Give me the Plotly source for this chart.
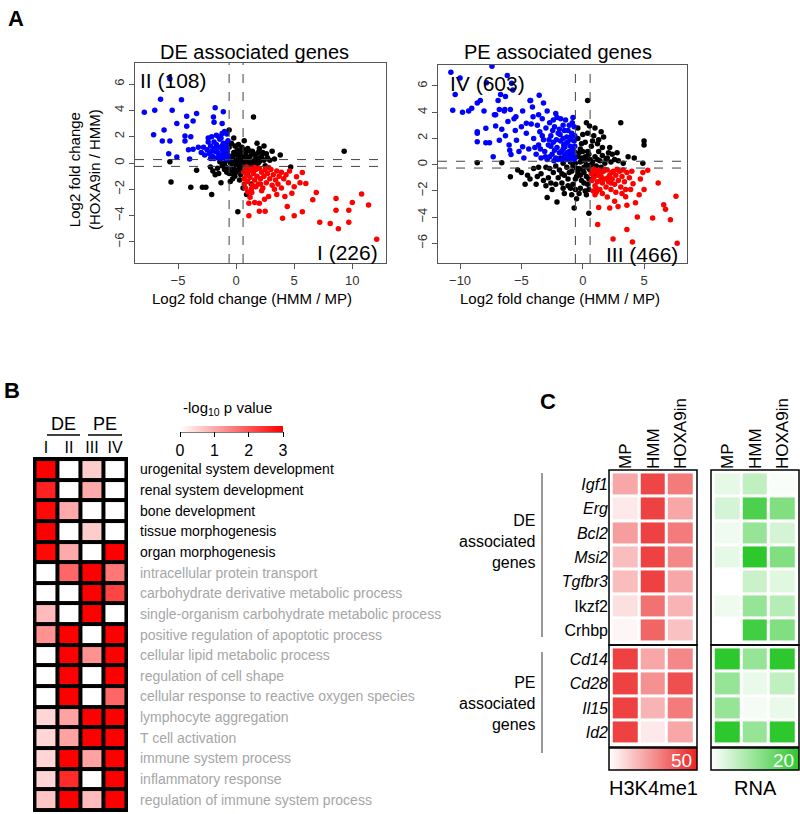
import plotly.graph_objects as go

W, H = 800, 814

# ---------------- panel A data ----------------
de_black = [(1.5, 3.5), (9.3, 0.9), (0.15, -3.7), (-5.7, 0.1), (-5.6, -1.45), (-3.9, -1.85),
            (-3.4, -0.55), (-2.9, -1.85), (-2.6, -1.85), (-2.1, -2.4), (-0.6, 2.5), (-0.2, 1.9),
            (0.9, -2.4), (0.7, 1.7), (2.4, 1.3), (2.0, 1.1), (3.1, 0.9), (3.8, 0.6), (4.7, -0.3),
            (-1.3, -1.5), (-2.2, -0.3), (-1.8, -0.9), (-1.0, -0.5), (1.3, -1.6), (0.6, -1.9),
            (-0.3, -1.2), (2.6, 0.7), (3.3, 0.3), (1.8, 1.5), (-0.6, -0.8),
            (-0.5, 0.0), (-0.3, 0.3), (-0.2, -0.3), (0.0, 0.6), (0.0, -0.1), (0.1, 0.2), (0.2, -0.5),
            (0.3, 0.9), (0.3, 0.1), (0.4, -0.2), (0.5, 0.5), (0.6, -0.1), (0.7, 0.2), (0.8, 0.6),
            (0.9, 0.0), (1.0, 0.3), (1.1, -0.2), (1.2, 0.5), (1.4, 0.1), (1.5, 0.7), (1.6, 0.2),
            (1.8, 0.4), (2.0, 0.1), (2.2, 0.5), (2.4, 0.2), (2.7, 0.4), (-0.8, 0.2), (-1.0, 0.0),
            (-0.6, -0.5), (-0.4, -0.8), (0.0, -0.7), (0.1, 1.0), (-0.2, 0.8), (0.5, 1.2), (0.9, 0.9),
            (1.2, 0.9), (-1.2, -0.2), (-0.9, -0.3), (-0.1, -1.0), (0.4, -0.9), (0.5, -0.6),
            (-0.4, 0.5), (0.2, 0.4), (0.6, 0.3), (1.3, -0.1), (1.9, 0.8), (-0.7, 0.6), (-1.4, 0.1),
            (0.8, -0.3), (0.0, 0.1), (-0.3, -0.1), (0.3, -0.3), (1.7, -0.1), (2.1, 0.3), (-1.6, -0.4),
            (-0.9, 0.9), (-0.6, 1.2), (-0.4, 1.5), (-0.1, 1.3), (0.2, 1.4), (0.6, 1.0), (1.0, 1.1),
            (1.4, 0.9), (1.7, 0.5), (2.3, 0.8), (2.9, 0.2), (-1.1, 0.5), (-0.8, -0.7), (-0.2, -0.6),
            (0.7, -0.6), (1.0, -0.9), (0.3, -1.3), (-0.5, -1.4), (-1.5, -0.8), (-2.0, -0.6),
            (1.5, -0.4), (2.5, -0.2), (0.1, 0.7), (0.4, 0.5), (0.8, -0.1), (-0.6, 0.3), (1.1, 0.1),
            (1.9, 0.0), (-0.2, 0.0), (0.6, 0.7)]

de_blue = [(-5.7, 6.4), (-6.5, 4.85), (-4.7, 4.8), (-7.9, 3.85), (-7.0, 4.0), (-5.5, 4.0),
           (-4.25, 3.56), (-3.4, 3.76), (-5.1, 3.0), (-3.7, 3.2), (-4.25, 2.8), (-6.2, 2.5),
           (-7.1, 2.15), (-4.4, 2.05), (-3.9, 2.0), (-6.35, 1.67), (-5.7, 1.67), (-4.4, 1.67),
           (-5.8, 0.7), (-5.1, 0.45), (-4.1, 1.0), (-3.7, 1.05), (-3.25, 1.2), (-2.8, 1.2),
           (-1.8, 4.2), (-1.1, 3.9), (-1.95, 3.5), (-1.9, 3.1), (-1.2, 3.0), (-2.4, 1.9),
           (-2.1, 2.0), (-1.2, 2.25), (-4.0, 0.3),
           (-2.5, 1.0), (-2.3, 0.7), (-2.2, 1.3), (-2.0, 0.5), (-1.9, 1.6), (-1.8, 0.9), (-1.7, 2.1),
           (-1.6, 0.4), (-1.5, 1.2), (-1.4, 1.8), (-1.3, 0.6), (-1.2, 1.0), (-1.1, 1.5), (-1.0, 0.4),
           (-0.9, 0.8), (-0.8, 1.2), (-0.7, 0.5), (-0.7, 1.7), (-0.8, 2.2), (-1.0, 2.4), (-1.3, 0.35),
           (-1.6, 0.8), (-1.9, 0.35), (-2.1, 0.9), (-1.5, 2.0), (-0.9, 0.35), (-1.2, 1.3),
           (-0.75, 0.9), (-1.7, 1.4), (-2.4, 1.6), (-2.7, 0.6), (-3.0, 0.8), (-1.1, 0.7),
           (-0.85, 1.5), (-1.45, 0.55), (-0.7, 0.3), (-1.0, 1.1), (-1.3, 1.9), (-2.2, 0.35),
           (-1.9, 1.1)]

de_red = [(12.1, -5.8), (8.8, -5.0), (8.1, -4.6), (7.2, -4.5), (9.7, -4.5), (8.6, -3.6),
          (9.7, -3.6), (11.4, -3.2), (10.0, -3.0), (10.8, -2.35), (8.6, -2.7), (6.9, -2.25),
          (6.6, -2.8), (5.7, -3.7), (5.0, -4.0), (4.0, -4.2), (4.4, -3.3), (2.5, -3.66),
          (2.0, -3.66), (2.0, -3.05), (1.6, -3.0), (1.1, -3.05), (1.1, -4.0), (6.0, -1.55),
          (5.5, -1.5), (5.7, -0.73), (5.2, -1.04), (4.2, -2.55), (4.8, -2.3), (3.5, -2.4),
          (2.8, -2.55), (2.45, -2.75), (3.9, -1.9), (4.5, -1.5), (5.0, -1.8), (1.35, -2.25),
          (1.7, -1.8),
          (0.8, -0.4), (0.9, -0.9), (1.0, -1.4), (1.1, -0.6), (1.2, -1.1), (1.3, -0.4), (1.4, -1.7),
          (1.5, -0.8), (1.6, -1.3), (1.7, -0.5), (1.8, -1.0), (1.9, -1.6), (2.0, -0.4), (2.1, -1.2),
          (2.2, -0.7), (2.3, -1.9), (2.4, -1.0), (2.5, -0.5), (2.6, -1.5), (2.7, -0.8), (2.9, -1.2),
          (3.0, -0.5), (3.1, -1.7), (3.2, -0.9), (3.4, -1.3), (3.5, -0.6), (3.7, -1.0), (3.9, -0.7),
          (4.1, -1.2), (4.3, -0.9), (4.6, -0.6), (0.8, -1.9), (1.0, -2.2), (1.3, -2.0), (0.7, -1.2),
          (0.9, -0.3), (1.6, -0.35), (2.8, -0.35), (3.3, -2.0), (2.2, -2.1), (0.65, -0.7),
          (1.45, -0.5), (2.1, -1.6), (3.6, -1.6), (0.7, -1.6), (1.2, -2.6)]

pe_black = [(0.4, 4.9), (3.1, 3.2), (5.0, 1.8), (5.0, 1.5), (0.55, 2.95), (1.0, 2.8), (0.5, -3.7),
            (-0.7, -3.3), (-2.9, -2.5), (-2.1, -2.85), (-4.7, -1.5), (-5.9, -0.93), (-8.6, 0.14),
            (-6.6, 0.14), (3.7, 0.6), (4.9, 0.1), (1.7, 2.1), (2.2, 1.3), (1.3, 1.9), (-4.5, -0.8),
            (-3.7, -0.9), (-4.0, -0.3), (-3.2, -1.2), (-2.5, -1.9), (-1.5, -2.2), (-1.2, -1.6),
            (-0.5, -2.6), (0.3, -2.3), (-5.3, -0.4), (-3.0, -0.2), (2.8, 0.9), (4.2, 0.5),
            (-2.4, -0.6), (-2.2, -0.1), (-2.0, -1.0), (-1.9, -0.4), (-1.7, -1.4), (-1.6, 0.1),
            (-1.5, -0.8), (-1.3, -0.2), (-1.2, -1.1), (-1.0, 0.2), (-0.9, -0.5), (-0.8, -1.5),
            (-0.6, 0.1), (-0.5, -0.9), (-0.4, 0.6), (-0.3, -0.3), (-0.2, 1.2), (-0.1, -1.2), (0.0, 0.3),
            (0.1, -0.6), (0.2, 1.7), (0.3, 0.0), (0.4, -1.5), (0.5, 0.8), (0.6, -0.4), (0.7, 1.4),
            (0.8, 0.2), (0.9, -0.9), (1.0, 0.6), (1.1, -0.1), (1.3, 1.0), (1.4, 0.3), (1.6, 0.7),
            (1.8, 0.1), (2.0, 0.5), (2.3, 0.2), (2.6, 0.4), (-0.4, 2.0), (0.0, 2.3), (-0.2, -1.8),
            (0.2, -2.0), (-0.6, -1.9), (0.5, -1.9), (-1.0, -1.8), (0.4, 1.0), (-0.1, 0.5), (0.1, -0.2),
            (-0.5, -0.3), (0.3, -0.9), (-0.3, 0.9), (1.2, 1.6), (0.9, 2.2), (-1.4, 0.5), (-2.6, -1.4),
            (-3.4, -0.7), (-2.8, -1.0), (0.6, 0.4), (-0.8, -0.1), (0.2, 0.6), (-0.4, -0.6), (1.5, -0.2),
            (2.1, 0.9), (0.0, -0.4), (-0.2, 0.2),
            (-1.8, 0.5), (-1.1, 0.8), (-0.7, 1.0), (-0.1, 1.6), (0.4, 2.4), (0.8, 1.8), (1.6, 1.3),
            (1.9, 0.4), (2.4, 0.8), (2.9, 0.3), (3.3, 0.1), (-3.8, -1.5), (-3.0, -1.6), (-2.2, -1.5),
            (-1.6, -1.8), (-0.9, -2.3), (-0.3, -2.2), (0.1, -1.4), (0.5, -1.1), (-0.6, -1.1),
            (-1.1, -0.6), (-1.7, -0.7), (-2.7, -0.3), (0.7, 0.0), (1.2, 0.4), (-0.2, -0.8), (0.3, 0.4),
            (-0.7, 0.5), (0.0, 1.0), (0.5, -0.3), (-4.3, -1.1), (-5.0, -0.6), (-3.6, -0.2), (1.5, 2.5),
            (0.3, 3.2), (-0.4, 2.8)]

pe_blue = [(-7.4, 7.5), (-10.75, 7.05), (-10.0, 6.6), (-7.85, 6.25), (-5.7, 5.7), (-10.4, 5.35),
           (-6.7, 5.35), (-6.3, 5.2), (-3.55, 5.3), (-10.6, 4.15), (-9.3, 4.1), (-9.05, 4.3),
           (-8.6, 4.7), (-8.35, 4.9), (-8.05, 4.1), (-6.8, 4.2), (-7.1, 3.8), (-6.4, 4.1), (-5.9, 4.2),
           (-5.45, 3.65), (-4.9, 4.1), (-4.1, 4.4), (-4.25, 4.9), (-8.6, 1.75), (-8.6, 2.5),
           (-7.9, 1.67), (-7.3, 0.6), (-6.15, 6.8), (-5.8, 6.2), (-9.8, 4.0), (-8.6, 2.4),
           (-7.6, 1.67), (-7.9, 2.77), (-7.2, 3.8), (-6.9, 4.9), (-6.35, 4.2), (-7.1, 2.95),
           (-6.6, 2.7), (-6.1, 3.3), (-5.5, 2.6), (-4.3, 4.9), (-3.2, 4.7), (-4.05, 3.65),
           (-4.6, 3.15), (-5.4, 1.87), (-5.95, 1.1), (-4.9, 1.36), (-6.8, 1.87), (-5.85, 0.78),
           (-4.0, 2.0), (-3.8, 0.8), (-3.7, 3.0), (-3.6, 1.5), (-3.5, 2.5), (-3.4, 0.5), (-3.3, 3.5),
           (-3.2, 1.9), (-3.1, 1.0), (-3.0, 2.8), (-2.9, 0.4), (-2.8, 1.5), (-2.7, 3.2), (-2.6, 2.2),
           (-2.5, 0.8), (-2.4, 1.7), (-2.3, 2.9), (-2.2, 0.5), (-2.1, 1.3), (-2.0, 2.4), (-1.9, 0.9),
           (-1.8, 3.5), (-1.8, 1.8), (-1.7, 0.4), (-1.6, 1.2), (-1.5, 2.6), (-1.5, 0.7), (-1.4, 1.6),
           (-1.3, 2.1), (-1.2, 0.5), (-1.1, 1.0), (-1.1, 3.0), (-1.0, 1.9), (-0.9, 0.6), (-0.9, 2.4),
           (-0.8, 1.3), (-0.7, 0.4), (-0.7, 1.8), (-0.7, 2.9), (-0.8, 0.9), (-1.0, 1.4), (-1.3, 0.9),
           (-1.6, 2.0), (-2.0, 0.4), (-2.3, 1.1), (-2.6, 1.4), (-1.2, 2.6), (-0.8, 3.6), (-1.4, 3.4),
           (-2.1, 3.6), (-4.4, 1.2), (-4.6, 2.4), (-4.2, 3.1), (-5.0, 2.9), (-5.2, 1.0), (-4.8, 0.5),
           (-3.9, 1.3), (-3.3, 2.2), (-2.7, 0.6), (-1.9, 2.7), (-0.75, 1.05), (-1.05, 0.35),
           (-1.45, 1.35), (-0.95, 2.1), (-1.75, 1.0), (-2.45, 2.6), (-1.25, 1.7), (-3.6, 3.8),
           (-2.9, 4.1), (-2.2, 3.9), (-5.6, 3.5), (-6.3, 2.2), (-6.0, 1.5),
           (-0.65, 0.6), (-0.65, 1.4), (-0.65, 2.2), (-1.0, 0.9), (-1.35, 0.4), (-1.55, 1.5),
           (-1.85, 2.3), (-2.15, 1.9), (-2.35, 0.3), (-2.75, 1.9), (-3.05, 0.6), (-3.45, 1.2),
           (-0.85, 3.2), (-1.6, 3.0), (-2.4, 3.4)]

pe_red = [(7.7, -6.0), (7.6, -2.4), (6.6, -3.05), (6.75, -3.4), (7.15, -4.2), (5.7, -4.07),
          (4.45, -4.0), (3.6, -4.95), (4.05, -5.9), (2.47, -5.67), (1.22, -4.57), (1.3, -3.27),
          (2.88, -3.2), (3.6, -3.1), (4.3, -2.9), (6.15, -1.4), (5.3, -0.42), (4.1, -1.45),
          (3.2, -2.2), (3.5, -2.45), (2.0, -2.46), (2.6, -2.8), (1.1, -2.1), (4.7, -1.1), (5.0, -1.9),
          (4.6, -2.3), (4.9, -0.6), (3.9, -1.9), (2.2, -3.3),
          (0.8, -0.4), (0.9, -1.0), (1.0, -1.6), (1.1, -0.6), (1.2, -1.3), (1.3, -0.4), (1.4, -1.9),
          (1.5, -0.9), (1.6, -1.4), (1.7, -0.5), (1.8, -1.1), (1.9, -1.7), (2.0, -0.4), (2.1, -1.3),
          (2.2, -0.8), (2.3, -1.9), (2.4, -1.1), (2.5, -0.5), (2.6, -1.5), (2.7, -0.8), (2.9, -1.2),
          (3.0, -0.5), (3.1, -1.7), (3.2, -0.9), (3.4, -1.3), (3.6, -0.6), (3.8, -1.0), (4.0, -0.5),
          (0.75, -1.2), (0.85, -2.0), (1.0, -2.3), (1.6, -2.2), (2.7, -2.1), (0.9, -0.35),
          (1.8, -0.35), (2.8, -0.35), (1.25, -0.8), (2.05, -1.0), (1.45, -1.2), (2.35, -0.6),
          (1.5, -0.6), (2.3, -1.4), (3.3, -0.4), (3.5, -1.9), (1.1, -1.8), (0.7, -0.7)]

fc_cut_x = 0.6    # dashed vertical cut-offs (HMM / MP)
fc_cut_y = 0.26   # dashed horizontal cut-offs (HOXA9in / HMM)

# ---------------- panel B data ----------------
go_terms = ["urogenital system development", "renal system development", "bone development",
            "tissue morphogenesis", "organ morphogenesis", "intracellular protein transport",
            "carbohydrate derivative metabolic process",
            "single-organism carbohydrate metabolic process",
            "positive regulation of apoptotic process", "cellular lipid metabolic process",
            "regulation of cell shape", "cellular response to reactive oxygen species",
            "lymphocyte aggregation", "T cell activation", "immune system process",
            "inflammatory response", "regulation of immune system process"]
go_n_dark = 5
go_groups = ["I", "II", "III", "IV"]
go_logp = [[3.0, 0.0, 0.6, 0.0],
           [2.6, 0.0, 1.0, 0.0],
           [2.9, 1.0, 0.0, 0.0],
           [3.0, 0.0, 0.6, 0.0],
           [2.9, 1.0, 0.0, 3.0],
           [0.0, 1.8, 3.0, 1.6],
           [0.0, 0.0, 3.0, 2.2],
           [0.8, 0.0, 3.0, 0.0],
           [1.3, 3.0, 0.0, 3.0],
           [0.0, 3.0, 1.3, 3.0],
           [0.0, 3.0, 0.0, 3.0],
           [0.0, 3.0, 0.0, 1.8],
           [0.5, 1.1, 3.0, 3.0],
           [0.5, 1.1, 3.0, 3.0],
           [0.5, 3.0, 1.1, 3.0],
           [0.5, 2.5, 0.0, 3.0],
           [0.7, 3.0, 0.8, 3.0]]

# ---------------- panel C data ----------------
samples = ["MP", "HMM", "HOXA9in"]
de_genes = ["<i>Igf1</i>", "<i>Erg</i>", "<i>Bcl2</i>", "<i>Msi2</i>", "<i>Tgfbr3</i>", "Ikzf2", "Crhbp"]
pe_genes = ["<i>Cd14</i>", "<i>Cd28</i>", "<i>Il15</i>", "<i>Id2</i>"]
h3_de = [[20, 42, 30], [5, 43, 20], [22, 43, 30], [15, 43, 27], [15, 43, 20], [7, 32, 17], [2, 35, 14]]
h3_pe = [[43, 20, 27], [43, 25, 40], [43, 17, 30], [43, 5, 20]]
rna_de = [[2.4, 6, 0.6], [4, 17, 12], [1.6, 10, 4], [2.4, 20, 12], [0, 5, 3], [1.6, 10, 7], [0, 18, 12]]
rna_pe = [[20, 10, 20], [10, 2, 6], [10, 1, 2], [20, 10, 20]]


def dx(a, b):
    return [a / W, b / W]


def dy(top, bottom):
    return [1 - bottom / H, 1 - top / H]


def xs(pts):
    return [p[0] for p in pts]


def ys(pts):
    return [p[1] for p in pts]


fig = go.Figure()

# scatter plots
for pts, col in [(de_black, "black"), (de_blue, "blue"), (de_red, "red")]:
    fig.add_trace(go.Scatter(x=xs(pts), y=ys(pts), mode="markers", xaxis="x", yaxis="y",
                             marker=dict(color=col, size=5.5)))
for pts, col in [(pe_black, "black"), (pe_blue, "blue"), (pe_red, "red")]:
    fig.add_trace(go.Scatter(x=xs(pts), y=ys(pts), mode="markers", xaxis="x2", yaxis="y2",
                             marker=dict(color=col, size=5.5)))

# GO enrichment heatmap
fig.add_trace(go.Heatmap(z=go_logp, x=list(range(4)), y=list(range(len(go_terms))),
                         xaxis="x3", yaxis="y3", coloraxis="coloraxis", xgap=4, ygap=4))

# H3K4me1 / RNA heatmaps
fig.add_trace(go.Heatmap(z=h3_de, x=[0, 1, 2], y=list(range(7)), xaxis="x4", yaxis="y4",
                         coloraxis="coloraxis2", xgap=3, ygap=3))
fig.add_trace(go.Heatmap(z=h3_pe, x=[0, 1, 2], y=list(range(4)), xaxis="x5", yaxis="y5",
                         coloraxis="coloraxis2", xgap=3, ygap=3))
fig.add_trace(go.Heatmap(z=rna_de, x=[0, 1, 2], y=list(range(7)), xaxis="x6", yaxis="y6",
                         coloraxis="coloraxis3", xgap=3, ygap=3))
fig.add_trace(go.Heatmap(z=rna_pe, x=[0, 1, 2], y=list(range(4)), xaxis="x7", yaxis="y7",
                         coloraxis="coloraxis3", xgap=3, ygap=3))

sc_ax = dict(showline=True, mirror=True, linecolor="#555", linewidth=1, ticks="outside",
             ticklen=5, tickcolor="#555", showgrid=False, zeroline=False,
             tickfont=dict(size=13, color="#333"))
hm_ax = dict(showgrid=False, zeroline=False, showline=False, ticks="", fixedrange=True)

fig.update_layout(
    width=W, height=H, margin=dict(l=0, r=0, t=0, b=0),
    paper_bgcolor="white", plot_bgcolor="white", showlegend=False,
    font=dict(family="Liberation Sans, Arial", color="black"),
    xaxis=dict(sc_ax, domain=dx(135, 386), range=[-8.7, 12.9], tickvals=[-5, 0, 5, 10], anchor="y"),
    yaxis=dict(sc_ax, domain=dy(63, 263), range=[-7.6, 7.6], tickvals=[-6, -4, -2, 0, 2, 4, 6],
               tickangle=-90, anchor="x"),
    xaxis2=dict(sc_ax, domain=dx(438, 687), range=[-11.8, 8.5], tickvals=[-10, -5, 0, 5], anchor="y2"),
    yaxis2=dict(sc_ax, domain=dy(65, 263), range=[-7.5, 7.6], tickvals=[-6, -4, -2, 0, 2, 4, 6],
                tickangle=-90, anchor="x2"),
    xaxis3=dict(hm_ax, domain=dx(33, 128), range=[-0.56, 3.56], side="top", anchor="y3",
                tickvals=list(range(4)), ticktext=go_groups, tickfont=dict(size=16)),
    yaxis3=dict(hm_ax, domain=dy(457, 812), range=[16.6, -0.6], showticklabels=False, anchor="x3"),
    xaxis4=dict(hm_ax, domain=dx(609, 697), range=[-0.6, 2.6], side="top", anchor="y4",
                tickvals=[0, 1, 2], ticktext=samples, tickangle=-90, tickfont=dict(size=17)),
    yaxis4=dict(hm_ax, domain=dy(470, 645), range=[6.6, -0.6], anchor="x4",
                tickvals=list(range(7)), ticktext=de_genes, tickfont=dict(size=16)),
    xaxis5=dict(hm_ax, domain=dx(609, 697), range=[-0.6, 2.6], showticklabels=False, anchor="y5"),
    yaxis5=dict(hm_ax, domain=dy(645, 747), range=[3.6, -0.6], anchor="x5",
                tickvals=list(range(4)), ticktext=pe_genes, tickfont=dict(size=16)),
    xaxis6=dict(hm_ax, domain=dx(711, 799), range=[-0.6, 2.6], side="top", anchor="y6",
                tickvals=[0, 1, 2], ticktext=samples, tickangle=-90, tickfont=dict(size=17)),
    yaxis6=dict(hm_ax, domain=dy(470, 645), range=[6.6, -0.6], showticklabels=False, anchor="x6"),
    xaxis7=dict(hm_ax, domain=dx(711, 799), range=[-0.6, 2.6], showticklabels=False, anchor="y7"),
    yaxis7=dict(hm_ax, domain=dy(645, 747), range=[3.6, -0.6], showticklabels=False, anchor="x7"),
    coloraxis=dict(cmin=0, cmax=3, colorscale=[[0, "white"], [1, "#ff0000"]],
                   colorbar=dict(orientation="h", x=180 / W, xanchor="left", y=1 - 426 / H,
                                 yanchor="top", len=103, lenmode="pixels", thickness=6,
                                 outlinewidth=0, xpad=0, ypad=0, tickvals=[0, 1, 2, 3],
                                 ticks="outside", ticklen=5, tickcolor="black",
                                 tickfont=dict(size=16))),
    coloraxis2=dict(cmin=0, cmax=50, colorscale=[[0, "white"], [1, "rgb(235,35,35)"]],
                    colorbar=dict(orientation="h", x=609 / W, xanchor="left", y=1 - 748 / H,
                                  yanchor="top", len=88, lenmode="pixels", thickness=22,
                                  outlinecolor="black", outlinewidth=1.5, xpad=0, ypad=0,
                                  showticklabels=False, ticks="")),
    coloraxis3=dict(cmin=0, cmax=20, colorscale=[[0, "white"], [1, "rgb(45,200,45)"]],
                    colorbar=dict(orientation="h", x=711 / W, xanchor="left", y=1 - 748 / H,
                                  yanchor="top", len=88, lenmode="pixels", thickness=22,
                                  outlinecolor="black", outlinewidth=1.5, xpad=0, ypad=0,
                                  showticklabels=False, ticks="")),
)

shapes = []
dash = dict(color="#444", width=1, dash="dash")
for xa, ya in [("x", "y"), ("x2", "y2")]:
    for v in (-fc_cut_x, fc_cut_x):
        shapes.append(dict(type="line", xref=xa, yref=ya + " domain", x0=v, x1=v, y0=0, y1=1, line=dash))
    for v in (-fc_cut_y, fc_cut_y):
        shapes.append(dict(type="line", xref=xa + " domain", yref=ya, x0=0, x1=1, y0=v, y1=v, line=dash))

# black frame behind GO heatmap
shapes.append(dict(type="rect", xref="x3 domain", yref="y3 domain", x0=0, x1=1, y0=0, y1=1,
                   fillcolor="black", line=dict(width=0), layer="below"))
# DE / PE header underlines
for a, b in [(47, 80), (88, 122)]:
    shapes.append(dict(type="line", xref="paper", yref="paper", x0=a / W, x1=b / W,
                       y0=1 - 435 / H, y1=1 - 435 / H, line=dict(color="black", width=1.5)))
# colour key base line
shapes.append(dict(type="line", xref="paper", yref="paper", x0=180 / W, x1=283 / W,
                   y0=1 - 432 / H, y1=1 - 432 / H, line=dict(color="black", width=1)))
# boxes around panel C heatmaps
for n in (4, 5, 6, 7):
    shapes.append(dict(type="rect", xref=f"x{n} domain", yref=f"y{n} domain", x0=0, x1=1, y0=0, y1=1,
                       line=dict(color="black", width=1.5)))
# group brackets
for top, bot in [(473, 637), (652, 753)]:
    shapes.append(dict(type="line", xref="paper", yref="paper", x0=542 / W, x1=542 / W,
                       y0=1 - bot / H, y1=1 - top / H, line=dict(color="#777", width=1.5)))
fig.update_layout(shapes=shapes)


def note(text, x, y, size, xanchor="center", yanchor="middle", **kw):
    return dict(text=text, x=x / W, y=1 - y / H, xref="paper", yref="paper", showarrow=False,
                font=dict(size=size, color=kw.pop("color", "black")), xanchor=xanchor,
                yanchor=yanchor, **kw)


ann = [
    note("<b>A</b>", 6, 18, 22, xanchor="left"),
    note("<b>B</b>", 2, 390, 22, xanchor="left"),
    note("<b>C</b>", 538, 401, 22, xanchor="left"),
    note("DE associated genes", 254, 52, 20),
    note("PE associated genes", 558, 52, 20),
    note("Log2 fold change (HMM / MP)", 252, 298, 15),
    note("Log2 fold change (HMM / MP)", 560, 298, 15),
    note("Log2 fold change<br>(HOXA9in / HMM)", 84, 170, 15, textangle=-90),
    note("II (108)", 138, 81, 21, xanchor="left"),
    note("I (226)", 380, 253, 21, xanchor="right"),
    note("IV (603)", 448, 83, 21, xanchor="left"),
    note("III (466)", 680, 254, 21, xanchor="right"),
    note("DE", 63, 424, 18),
    note("PE", 105, 424, 18),
    note("-log<sub>10</sub> p value", 227, 409, 15),
    note("DE<br>associated<br>genes", 538, 541, 16, xanchor="right", align="right"),
    note("PE<br>associated<br>genes", 538, 703, 16, xanchor="right", align="right"),
    note("50", 694, 760, 19, xanchor="right", color="white"),
    note("20", 796, 760, 19, xanchor="right", color="white"),
    note("H3K4me1", 653, 788, 20),
    note("RNA", 755, 788, 20),
]
for i, term in enumerate(go_terms):
    ann.append(dict(text=term, x=138 / W, xref="paper", y=i, yref="y3", showarrow=False,
                    xanchor="left", font=dict(size=14, color="black" if i < go_n_dark else "#a6a6a6")))
fig.update_layout(annotations=ann)

# drop the browser's default 8px body margin so the 800x814 figure fills the window
fig.write_html("out.html", config={"displayModeBar": False},
               post_script="document.body.style.margin='0';")
